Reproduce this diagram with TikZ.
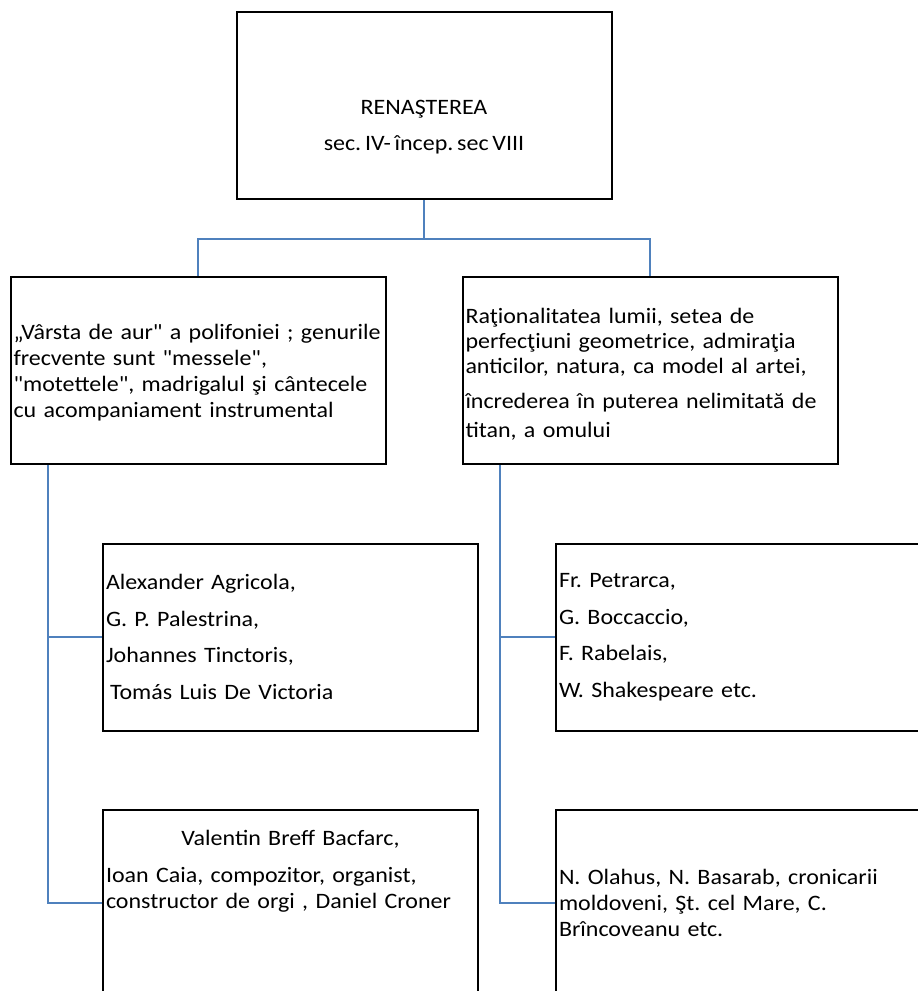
\documentclass[tikz,border=0pt]{standalone}
\usepackage{fontspec}
\setmainfont{Carlito}[FakeStretch=1.09,WordSpace=0.7,Ligatures=TeXOff]
\usepackage{tikz}
\definecolor{lineblue}{RGB}{79,129,189}

\begin{document}
\begin{tikzpicture}[x=1pt,y=-1pt]
\tikzstyle{box}=[draw=black,line width=2pt,minimum width=375pt,minimum height=187pt,inner xsep=3pt,inner ysep=0pt,font=\fontsize{22}{26}\selectfont\frenchspacing]
\tikzstyle{textbox}=[box,text width=369pt,align=left]
\tikzstyle{conn}=[draw=lineblue,line width=2pt]
\clip (0,0) rectangle (918,991);
\node[box,align=center] (ren) at (424,105.5) {\rule{0pt}{57pt}RENAŞTEREA\\[10pt] sec. IV- încep. sec VIII};
\node[textbox] (muz) at (198,370.5) {\rule{0pt}{20pt}„Vârsta de aur" a polifoniei ; genurile\\ frecvente sunt "messele",\\ "motettele", madrigalul şi cântecele\\ cu acompaniament instrumental};
\node[textbox] (lit) at (650,370.5) {\rule{0pt}{22pt}Raţionalitatea lumii, setea de\\[-1pt] perfecţiuni geometrice, admiraţia\\[-1pt] anticilor, natura, ca model al artei,\\[9pt] încrederea în puterea nelimitată de\\[3pt] titan, a omului};
\node[textbox] (compA) at (290.5,637) {Alexander Agricola,\\[10.5pt] G. P. Palestrina,\\[10.5pt] Johannes Tinctoris,\\[10.5pt] \hspace*{4pt}Tomás Luis De Victoria};
\node[textbox] (scrA) at (743.5,637) {Fr. Petrarca,\\[10.5pt] G. Boccaccio,\\[10.5pt] F. Rabelais,\\[10.5pt] W. Shakespeare etc.};
\node[textbox] (compB) at (290.5,903) {\makebox[\linewidth]{Valentin Breff Bacfarc,}\\[11pt] Ioan Caia, compozitor, organist,\\ constructor de orgi , Daniel Croner\rule[-68pt]{0pt}{68pt}};
\node[textbox] (scrB) at (743.5,903) {N. Olahus, N. Basarab, cronicarii\\ moldoveni, Şt. cel Mare, C.\\ Brîncoveanu etc.};
% legaturi
\draw[conn] (ren.south) -- ++(0,39) -| (muz.north);
\draw[conn] (ren.south) -- ++(0,39) -| (lit.north);
\draw[conn] ([xshift=38pt]muz.south west) |- (compA.west);
\draw[conn] ([xshift=38pt]muz.south west) |- (compB.west);
\draw[conn] ([xshift=38pt]lit.south west) |- (scrA.west);
\draw[conn] ([xshift=38pt]lit.south west) |- (scrB.west);
\end{tikzpicture}
\end{document}
